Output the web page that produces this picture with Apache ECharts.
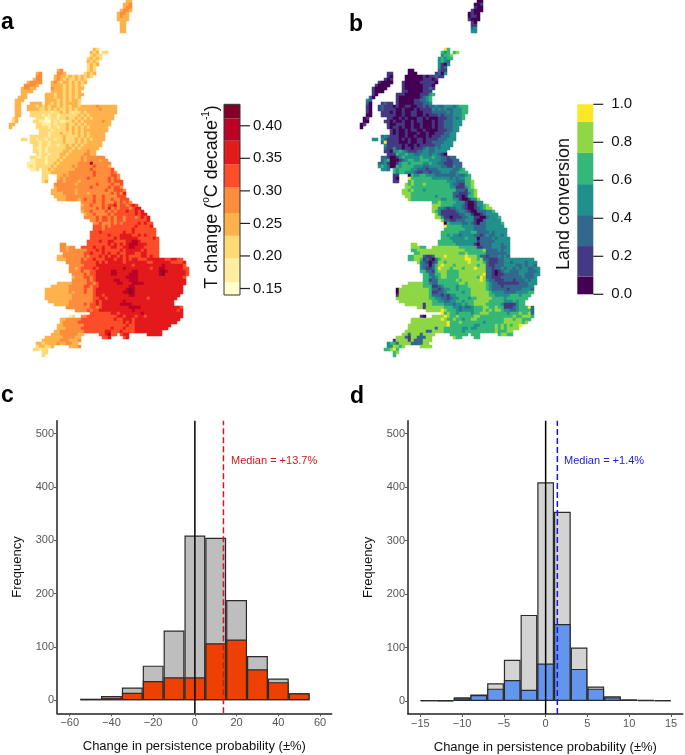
<!DOCTYPE html>
<html><head><meta charset="utf-8">
<script src="https://cdn.jsdelivr.net/npm/echarts@6/dist/echarts.min.js"></script>
<style>html,body{margin:0;padding:0;background:#fff}#c{width:685px;height:755px}</style></head>
<body><div id="c"></div>
<script>
// Map rows: "column:digits"; extra tokens continue along the row; digit = colour class.
const tempRows = [
"40:44","39:445","39:455","38:4554","37:4554","37:4544","37:4444","38:44","38:44","38:44","38:44",
"","","","","",
"29:43","28:434 32:33","28:3433","27:34343","27:4343","27:3434","27:343","17:45 27:343",
"10:45 17:554 26:3434","10:55 16:4544343434343","9:455 16:45434334343","7:45555 15:454344343434",
"6:55554 15:44443434343","5:45544 15:54443434344","5:4444 15:4444343434","5:44 13:4443443434344",
"4:444 13:444344343434","3:444 13:444434343443","3:44 8:4444 13:443434344443",
"3:44 7:444343434434343443444445444444","3:44 7:444433434343343434444444544444",
"3:44 8:33333 3323343432 33434444444444","3:44 8:33332 3233233333 3434344444444",
"2:34 10:333 1233233433 4343434444444","2:34 9:3322 1132322334 343444444544",
"1:44 10:332 2232333433 434344444444","1:4 10:33 3323323343 434343444444",
"11:3 3332333343 434344444444","11:3 3323334333 43434344444",
"8:3333 3323333433 33434344444","5:33 8:3323 3233233433 34343434444",
"8:3332 3323333433 3434344444","9:332 3323323343 4343444444","9:322 3233333344 343444444",
"9:332 3233333443 44444544","10:32 3323334434 44445544","8:3322 3233334344 44454555555",
"8:2233 3233343444 444545555455","7:22233 3233434444 4455558555555","7:23233 3334344444 5455555655554",
"8:223 12:33 4344444445 555565555556","12:33 3444444555 5555565555565",
"12:33 17:44545 5555555655 555665","12:33 17:45455 5555565555 556565","12:34 17:55455 5545555555 5565666",
"16:555555 5455555565 5556556","16:455555 5555556555 5565665","15:4455555 5455555555 56556665",
"15:4444555 5455545555 55565657","16:444455 5555555655 65555666","17:44455 5545655655 655655666",
"25:555 5655655565 6565","25:455 6555656675 665676","25:555 5565657565 6665677","25:455 6555565656 66766767",
"26:45 5655556566 666667677","26:55 5565665656 6566656767","28:55 6566565665 66666667",
"29:5 5655565656 666676766","29:6 6656566666 666766667","29:6 6656666666 6676666666",
"28:66 6766666667 6676666666","28:66 6666766677 7766767666","28:66 6666667677 77776666676",
"27:666 6766776666 77887666666","18:55 27:666 6666767676 78887776666",
"18:55455 25:66 6676676677 66778877766666","18:5545555 5566676766 6667677777676666",
"19:555555 5667666767 6676677766776666","17:44555555 5656667676 7767676666776766",
"17:44455555 6566766677 7677676776 66777777667766","20:55555 6666676767 7777677777 7766777777 66667",
"21:5555 5666677777 7777777677 7777777877 77776","21:5545 6666767777 7777877777 7776778877 777766",
"21:5555 6556677777 8877777887 7777778987 777776","22:555 5656677777 8877778887 7777778977 777776",
"22:455 5665677777 7777788887 7777777777 77776","22:555 5565677777 7887778887 7777777777 77777",
"17:44444 5555 5665677777 7887778888 7777777777 7777","15:444444 5555 5665667777 7777778877 7777777777 7777",
"13:44444444 5555 5655677777 7777789877 7777777777 7777","13:44444444 5455 5655677777 7777889877 7777777777 7777",
"13:44444444 4555 5555677677 7777778877 7777777777 777","13:44444444 4555 5555667767 7777777777 7767777777 77",
"14:444444 4555 5555567677 7777787777 7777777777 77","16:4444 4555 5565667677 7777888877 7777777777 77",
"20:555 5555 5665677777 7777888877 7777777777 76","23:55 5565667777 7777777877 7777777777 7767",
"28:6 6666667767 7777778777 7777777777","21:23 25:5566 6666666677 6777677677 7777777777",
"18:44555 55666 6666666676 6777677777 7777777777","18:45555 56666 6666666666 6767677777 777777777",
"17:445555 5556 6666666666 6667667777 77777777","17:444555 5566 6666666676 6676667777 7777777",
"16:4455555 555 6666666776 6676666777 777777","15:44455555544 31:667866 38:677 47:77777",
"13:444444555544 32:667 39:67","12:4444445554445","10:44344445445544","10:344334 21:4445","9:33233","12:33","12:3"
];
const landRows = [
"40:11","39:112","39:211","38:2111","37:1211","37:1221","37:2111","38:21","38:22","38:34","38:44",
"","","","","",
"29:75","28:545 32:56","28:4556","27:45455","27:4543","27:4214","27:423","17:11 27:322",
"10:22 17:111 26:2314","10:21 16:1111112122322","9:212 16:11111122212","7:21111 15:211111222221",
"6:21111 15:21111112221","5:21111 15:21111112232","5:2111 15:2211111222","5:21 13:2221111122245",
"4:31 13:211111112345","3:43 13:211111223345","3:31 8:2322 13:211111222334",
"3:21 7:23222 12112 21122 32334 33444 34555","3:21 7:23222 21121 11212 22243 43433 44455",
"3:21 8:2221 21121 12211 22233 33343 44455","3:11 8:222 22112 11221 12122 23233 34445",
"2:12 10:2 21121 21112 21211 12223 34345","2:11 9:22 12112 11212 21112 12233 3444",
"1:12 10:21122 21121 12111 21223 33444","1:1 10:2122 12112 11211 12122 33344",
"11:212 11212 21121 11122 23344","11:21 21121 11211 21122 23344",
"8:34322 21121 12111 21222 33344","5:44 8:43222 21212 11221 22223 33444",
"8:3722 22111 21122 12233 33444","9:422 22212 11212 22223 34444","9:32 24221 22122 23433 43444",
"9:2 21445 43222 33443 34444","10:22254 45443 34443 44321","8:33211 24544 44454 44544 33233",
"8:345111 23455 44555 44443 32233","7:33421 12455 45555 44544 33222 333","7:45431 15455 55444 33444 43322 433",
"8:443 12:5455 55443 33233 34444 43345","12:54554 44322 33233 34443 34555",
"12:22 17:1 54455 44433 33333 43345","12:21 17:7 55555 55444 44434 34455","12:22 17:56 55555 55555 54443 33556",
"16:656 55565 55555 55433 22556","16:665 55555 55555 55442 22456","15:66565 55455 55555 55533 32556",
"15:66655 55555 55555 55332 22456","16:6655 55555 54555 55322 12556","17:6555 55555 55445 54421 12446",
"25:55 65555 54442 11244","25:6665 55544 43211 24456","25:66443 23344 32112 34566","25:6 54222 22344 32113 33445",
"26:6 42222 22334 42112 34444","26:66 42212 22334 42211 34445","28:63 32233 34442 11344 444",
"29:1 54444 33432 13344 4445","29:7 55555 44443 33344 4444","29:5 55555 54443 33344 44444",
"28:55 55554 44455 33334 34444","28:55 45443 44443 32343 34434","28:555 44444 54441 33334 34444",
"27:5555 54444 44442 33333 44444","18:66 27:5555 55444 44421 33334 44344",
"18:66655 25:666666 66655 55552 23334 44334","18:55666 66666 66666 66655 55556 33334 344",
"19:55666 66666 66666 55655 55553 33333 34","17:5566 63223 66676 66666 76665 33233 34343",
"17:5566 52321 35666 66666 77665 63322 23344 44444 444","20:6 43212 36656 66666 67666 65322 23344 34444 3444",
"21:43313 56766 65666 66665 66322 33344 44334 3443","21:43223 57666 56665 66676 66332 33434 43434 43344",
"21:55332 56665 55566 66666 66332 12344 33344 43334","22:5533 55665 55566 66666 67332 12233 33344 33344",
"22:5543 45665 55566 66665 76332 22333 33334 3334","22:5523 35555 55656 66666 76433 22233 32333 4344",
"17:66666 5543 35555 55566 56666 66543 32222 22233 3444","15:6666666 5552 23455 55455 56666 66543 33233 33333 344",
"13:166666666 6653 32344 55455 55666 66543 33332 33334 443","13:166666666 6652 23345 55554 55666 66654 44433 33444 455",
"13:266666666 6653 33232 44555 55666 66655 44444 55545 55","13:666666666 6655 44332 34455 54556 66665 55545 55555 5",
"14:66666666 6665 54433 44554 55566 66655 55544 45455","16:666666 2665 55544 43445 45566 66555 55422 22455",
"20:66 2666 66655 54434 33455 56655 65522 23455 573","23:666 66765 55434 44455 56565 66544 33455 553",
"28:756 55455 55455 66655 55554 55565 563","21:21 25:6666 76556 55555 66555 55555 55565 56665",
"18:66666 66666 76556 55455 66555 55555 56665 66555","18:66666 66666 66755 56555 55554 55555 56666 6656",
"17:666666 66666 66755 55555 54455 55565 6565667","17:666666 66636 65555 55445 44555 55565 656666",
"16:6666666 33666 65555 55455 55555 55565 5566","15:66366636666 31:555555 38:555 47:56655",
"13:666326633366 32:655 39:55","12:2666626333666","10:45536666333366","10:446656 21:6666","9:55675","12:56","12:5"
];
const tempColors = ['#FFFFCC','#FFEDA0','#FED976','#FEB24C','#FD8D3C','#FC4E2A','#E31A1C','#BD0026','#800026'];
const landColors = ['#440154','#443A83','#31688E','#21908C','#35B779','#8FD744','#FDE725'];
const tempEdges = [0.14,0.16,0.196,0.231,0.266,0.305,0.341,0.377,0.411,0.433];
const landEdges = [0,0.093,0.254,0.417,0.58,0.744,0.909,1];
const tempTicks = [0.15,0.2,0.25,0.3,0.35,0.4];
const landTicks = [0,0.2,0.4,0.6,0.8,1];

const binsC = [-50,-40,-30,-20,-10,0,10,20,30,40,50];
const allC  = [3,8,24,65,131,309,305,188,83,41,13];
const sigC  = [2,5,14,36,43,43,107,114,58,34,13];
const binsD = [-14,-12,-10,-8,-6,-4,-2,0,2,4,6,8,10,12,14];
const allD  = [1,1,7,12,33,77,161,409,354,100,27,9,3,2,1];
const sigD  = [1,0,5,11,23,39,21,70,144,60,23,7,2,1,1];
const ticksCx = [-60,-40,-20,0,20,40,60];
const ticksDx = [-15,-10,-5,0,5,10,15];
const ticksY = [0,100,200,300,400,500];
const medianC = 13.7, medianD = 1.4;

const FONT = '"Liberation Sans", Arial, sans-serif';
const NCOL = 62, NROW = 119;
// Legend grids span bar (x 0..16) plus tick stubs (x 16..26), in pixels of the x scale.
const BAR_W = 16, TICK_END = 26;
function cells(rows){
  const out=[];
  rows.forEach((row,r)=>{
    let c=0;
    row.split(' ').forEach(tok=>{
      if(!tok) return;
      let d=tok;
      if(tok.includes(':')){const p=tok.split(':');c=+p[0];d=p[1];}
      for(const ch of d){ out.push([c,r,+ch]); c++; }
    });
  });
  return out;
}
const colCats=Array.from({length:NCOL},(_, i)=>String(i));
const rowCats=Array.from({length:NROW},(_, i)=>String(i));
const minus=v=>String(v).replace('-','\u2212');

function mapGrid(left){return {left,top:0,width:NCOL*3,height:NROW*3};}
function catX(i){return {type:'category',gridIndex:i,data:colCats,show:false};}
function catY(i){return {type:'category',gridIndex:i,data:rowCats,inverse:true,show:false};}
function pieces(colors){return colors.map((color,i)=>({value:i+1,color}));}

function legX(i){return {type:'value',gridIndex:i,min:0,max:TICK_END,show:false};}
function legY(i,min,max,ticks,dec,margin){
  return {type:'value',gridIndex:i,position:'right',min,max,splitLine:{show:false},
    axisLine:{show:false},axisTick:{show:false},
    axisLabel:{show:true,margin,color:'#111',fontFamily:FONT,fontSize:15,customValues:ticks,formatter:v=>(+v).toFixed(dec)}};
}
function legSeries(i,edges,colors){
  const d=colors.map((c,k)=>[edges[k],edges[k+1]]);
  return {type:'custom',xAxisIndex:i,yAxisIndex:i,silent:true,encode:{y:[0,1]},data:d,
    renderItem:(p,api)=>{
      const a=api.coord([0,api.value(0)]),b=api.coord([BAR_W,api.value(1)]);
      return {type:'rect',shape:{x:a[0],y:b[1],width:b[0]-a[0],height:a[1]-b[1]},style:{fill:colors[p.dataIndex]}};
    }};
}
function legTicks(i,ticks){
  return {type:'custom',xAxisIndex:i,yAxisIndex:i,silent:true,encode:{y:0},z:3,data:ticks.map(t=>[t]),
    renderItem:(p,api)=>{
      const a=api.coord([BAR_W,api.value(0)]),b=api.coord([TICK_END,api.value(0)]);
      return {type:'line',shape:{x1:a[0],y1:a[1],x2:b[0],y2:b[1]},style:{stroke:'#222',lineWidth:1.2}};
    }};
}
function legFrame(i,edges){
  return {type:'custom',xAxisIndex:i,yAxisIndex:i,silent:true,encode:{y:[0,1]},z:4,data:[[edges[0],edges[edges.length-1]]],
    renderItem:(p,api)=>{
      const a=api.coord([0,api.value(0)]),b=api.coord([BAR_W,api.value(1)]);
      return {type:'rect',shape:{x:a[0],y:b[1],width:b[0]-a[0],height:a[1]-b[1]},style:{fill:'none',stroke:'#333',lineWidth:1}};
    }};
}
function histX(i,min,max,ticks){
  return {type:'value',gridIndex:i,min,max,name:'Change in persistence probability (\u00b1%)',nameLocation:'middle',nameGap:27,
    nameTextStyle:{fontFamily:FONT,fontSize:13,color:'#111'},splitLine:{show:false},
    axisLine:{show:true,onZero:false,lineStyle:{color:'#222',width:1.5}},
    axisTick:{show:true,length:3,lineStyle:{color:'#555'},customValues:ticks},
    axisLabel:{color:'#555',fontFamily:FONT,fontSize:11,margin:4,customValues:ticks,formatter:minus}};
}
function histY(i){
  return {type:'value',gridIndex:i,min:-24.4,max:524.4,name:'Frequency',nameLocation:'middle',nameGap:33,
    nameTextStyle:{fontFamily:FONT,fontSize:13,color:'#111'},splitLine:{show:false},
    axisLine:{show:true,onZero:false,lineStyle:{color:'#222',width:1.5}},
    axisTick:{show:true,length:3,lineStyle:{color:'#555'},customValues:ticksY},
    axisLabel:{color:'#555',fontFamily:FONT,fontSize:11,margin:3,customValues:ticksY}};
}
function bars(i,xs,ys,color,bw,barGap){
  return {type:'bar',xAxisIndex:i,yAxisIndex:i,barWidth:bw,barGap,silent:true,
    data:xs.map((x,k)=>[x,ys[k]]),itemStyle:{color,borderColor:'#2b2b2b',borderWidth:1.2}};
}
function vline(i,x,color,type,width){
  return {type:'line',xAxisIndex:i,yAxisIndex:i,silent:true,showSymbol:false,symbol:'none',z:5,
    data:[[x,-24.4],[x,524.4]],lineStyle:{color,type,width}};
}
function letter(t,x,y){return {type:'text',left:x,top:y,style:{text:t,fontFamily:FONT,fontWeight:'bold',fontSize:23,fill:'#000'}};}
function note(t,x,y,fill){return {type:'text',x,y,style:{text:t,fontFamily:FONT,fontSize:11,fill,verticalAlign:'middle'}};}

const option={
  animation:false,
  grid:[mapGrid(6),mapGrid(357),
    {left:224,top:104.3,width:TICK_END,height:190.7},
    {left:577.3,top:104.3,width:TICK_END,height:190},
    {left:57,top:420.7,width:274.7,height:292.6},
    {left:408,top:420.7,width:274.7,height:293.3}],
  xAxis:[catX(0),catX(1),legX(2),legX(3),
    histX(4,-66.1,65.6,ticksCx),histX(5,-16.47,16.4,ticksDx)],
  yAxis:[catY(0),catY(1),
    legY(2,0.14,0.433,tempTicks,2,3),legY(3,0,1,landTicks,1,8),histY(4),histY(5)],
  visualMap:[
    {type:'piecewise',show:false,seriesIndex:0,dimension:2,pieces:pieces(tempColors)},
    {type:'piecewise',show:false,seriesIndex:1,dimension:2,pieces:pieces(landColors)}],
  series:[
    {type:'heatmap',xAxisIndex:0,yAxisIndex:0,data:cells(tempRows),silent:true,progressive:0},
    {type:'heatmap',xAxisIndex:1,yAxisIndex:1,data:cells(landRows),silent:true,progressive:0},
    legSeries(2,tempEdges,tempColors),legSeries(3,landEdges,landColors),
    legTicks(2,tempTicks),legTicks(3,landTicks),legFrame(2,tempEdges),
    bars(4,binsC,allC,'#BEBEBE',20.86,'-100%'),bars(4,binsC,sigC,'#EE4000',20.86,'-100%'),
    vline(4,0,'#000','solid',1.5),vline(4,medianC,'#CD1A1A','dashed',1.5),
    bars(5,binsD,allD,'#D3D3D3',16.71,'-100%'),bars(5,binsD,sigD,'#6495ED',16.71,'-100%'),
    vline(5,0,'#000','solid',1.5),vline(5,medianD,'#1414E6','dashed',1.5)
  ],
  graphic:[
    letter('a',1,11),letter('b',349,13),letter('c',1,384),letter('d',350,385),
    note('Median = +13.7%',231,461,'#CD1A1A'),note('Median = +1.4%',564,461,'#2020D8'),
    {type:'text',x:201,y:197,rotation:Math.PI/2,style:{
      text:'{t|T change (}{s|o}{t|C decade}{s|-1}{t|)}',align:'center',verticalAlign:'top',
      rich:{t:{fontFamily:FONT,fontSize:18,fill:'#111',lineHeight:22},s:{fontFamily:FONT,fontSize:10,fill:'#111',verticalAlign:'top',lineHeight:22}}}},
    {type:'text',x:555,y:204,rotation:Math.PI/2,style:{text:'Land conversion',fontFamily:FONT,fontSize:18,fill:'#111',align:'center',verticalAlign:'top'}}
  ]
};
const chart=echarts.init(document.getElementById('c'),null,{renderer:'canvas'});
chart.setOption(option);
</script></body></html>
